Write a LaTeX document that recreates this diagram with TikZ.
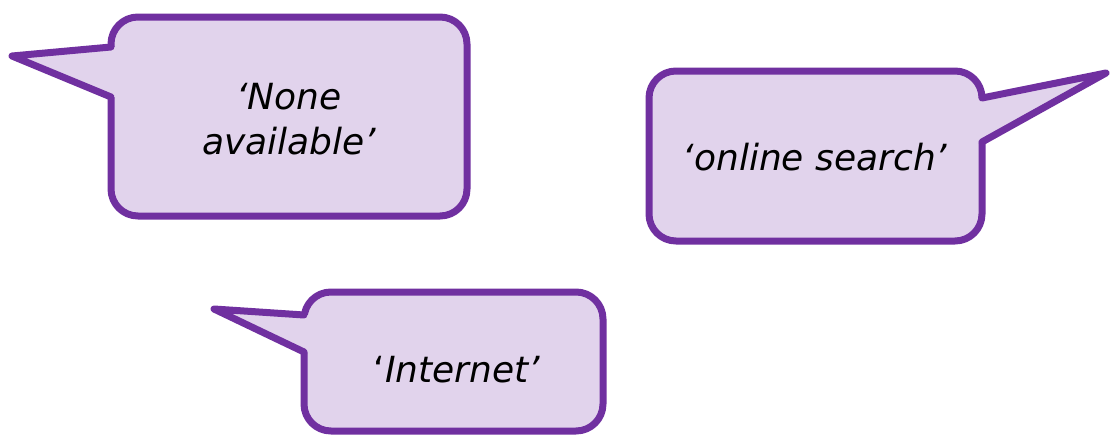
\documentclass[tikz,border=0pt]{standalone}
\usepackage{fontspec}
\setmainfont{DejaVu Sans}
\definecolor{bubblefill}{HTML}{E1D3EC}
\definecolor{bubbleline}{HTML}{7030A0}
\begin{document}
\begin{tikzpicture}[x=1pt,y=-1pt,
  box/.style={draw=bubbleline,fill=bubblefill,line width=7pt,rounded corners=27pt},
  tailfill/.style={fill=bubblefill},
  tailline/.style={draw=bubbleline,line width=7pt,line join=round,line cap=round},
  txt/.style={font=\fontsize{36}{45}\selectfont\itshape,text=black,inner sep=0pt,align=center}]
\useasboundingbox (0,0) rectangle (1112,437);
% bubble 1
\draw[box] (111,17) rectangle (467,216);
\coordinate (a1) at (111,47);
\coordinate (b1) at (111,97);
\coordinate (p1) at (12,56);
\fill[tailfill] (p1) -- (a1) -- (118,47) -- (118,97) -- (b1) -- cycle;
\draw[tailline] (a1) -- (p1) -- (b1);
\node[txt] (t1) at (289,119) {‘None\\available’};
% bubble 2
\draw[box] (649,71) rectangle (982,241);
\coordinate (a2) at (982,98);
\coordinate (b2) at (982,142);
\coordinate (p2) at (1106,73);
\fill[tailfill] (p2) -- (a2) -- (975,98) -- (975,142) -- (b2) -- cycle;
\draw[tailline] (a2) -- (p2) -- (b2);
\node[txt,anchor=base] (t2) at (815,170) {‘online search’};
% bubble 3
\draw[box] (304,292) rectangle (603,431);
\coordinate (a3) at (304,315);
\coordinate (b3) at (304,352);
\coordinate (p3) at (214,309);
\fill[tailfill] (p3) -- (a3) -- (311,315) -- (311,352) -- (b3) -- cycle;
\draw[tailline] (a3) -- (p3) -- (b3);
\node[txt,anchor=base] (t3) at (457,382) {{\upshape ‘}Internet’};
\end{tikzpicture}
\end{document}
